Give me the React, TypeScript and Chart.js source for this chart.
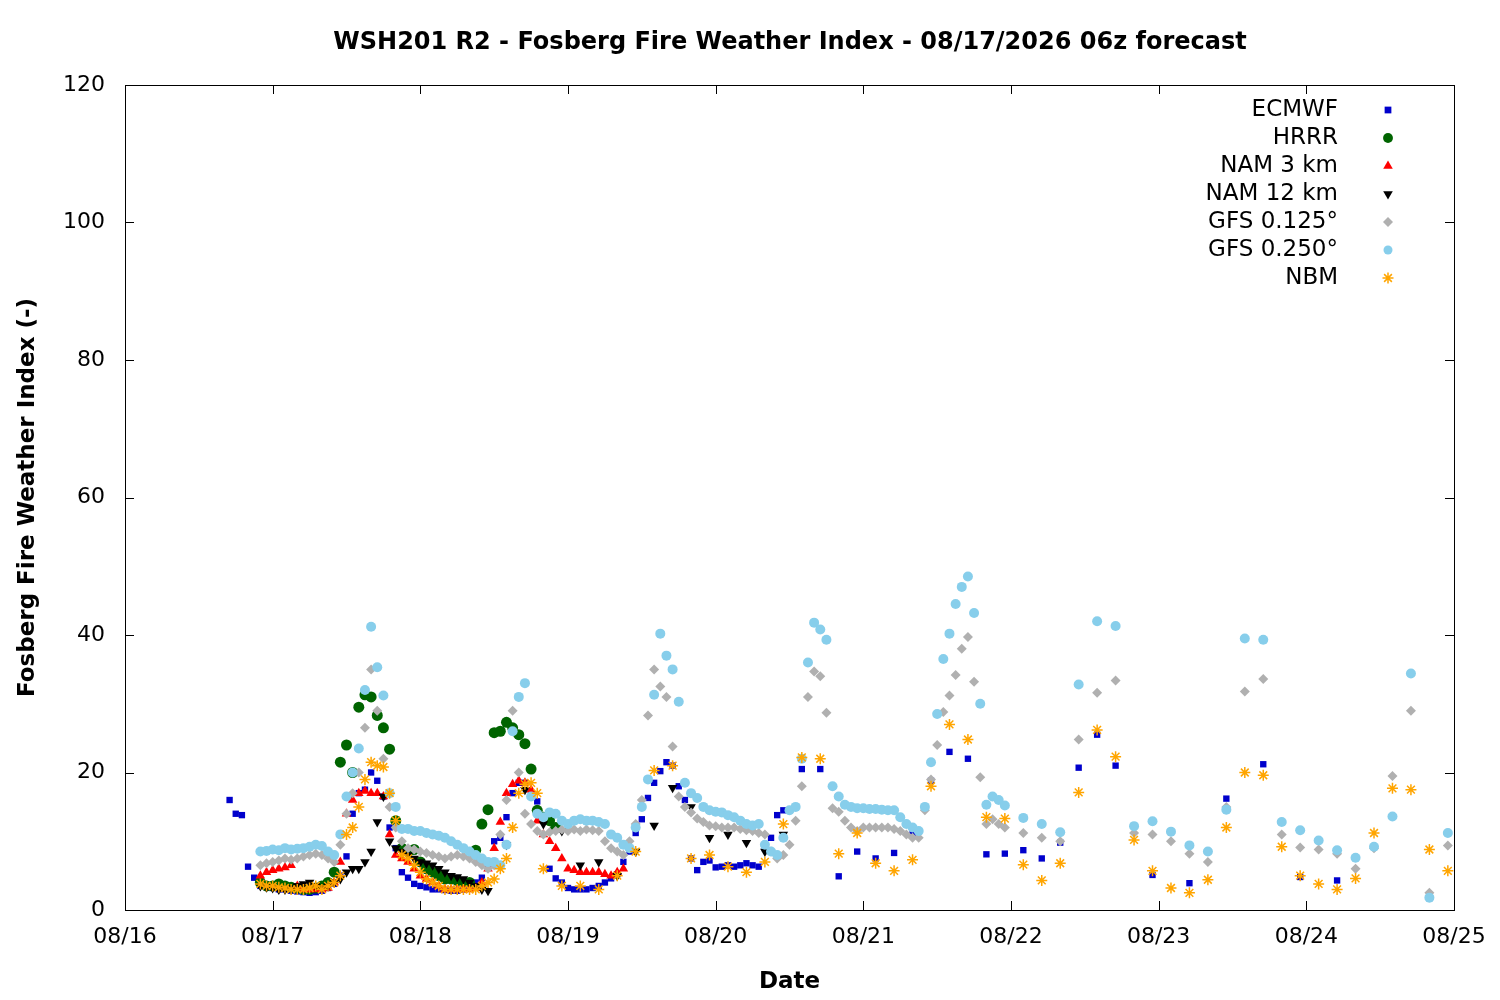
import React, { useEffect, useRef } from "react";
import { Chart, registerables } from "chart.js";
Chart.register(...registerables);

const xTickLabels = ["08/16","08/17","08/18","08/19","08/20","08/21","08/22","08/23","08/24","08/25"];
const seriesNames = ["ECMWF","HRRR","NAM 3 km","NAM 12 km","GFS 0.125°","GFS 0.250°","NBM"];

// hours since 08/16 00z
const ecmwfH1 = 17;
const ecmwfHourly = [16,14,13.8,6.3,4.7,3.5,3.3,3.2,3.0,3,2.8,2.7,2.6,2.5,2.6,2.8,3.2,3.8,5,7.8,14,17,17.5,20,18.8,16.5,12,9,5.5,4.7,3.8,3.5,3.3,3,3,2.9,2.8,2.8,3,3.2,4,4.7,6.5,10,10.5,13.5,17,18.5,18.5,17,15.8,13.5,6,4.6,4,3.2,3,3,3,3.2,3.5,4,4.6,5.2,7,8.5,11.2,13.2,16.3,18.5,20.2,21.5,21,18,16,7.5,5.8,7,7.2,6.2,6.3,6.5,6.3,6.5,6.8,6.5,6.3,9,10.5,13.8,14.5];
const ecmwfH3 = [110,113,116,119,122,125,128,131,134,137,140,143,146,149,152,155,158,161,167,173,179,185,191,197];
const ecmwfV3 = [20.5,20.5,4.9,8.5,7.5,8.3,11,18.8,23,22,8.1,8.2,8.7,7.5,9.8,20.7,25.5,21,5.1,3.9,16.2,21.2,4.8,4.3];

const hrrrH1 = 22;
const hrrrVals = [4,3.5,3.5,3.8,3.5,3.3,3.2,3,3,3.2,3.5,4,5.5,21.5,24,20,29.5,31.3,31,28.3,26.5,23.4,13,9,8.5,8.8,7,6,5.5,5,4.5,4.5,4.3,4,4,8.7,12.5,14.6,25.8,26,27.3,26.5,25.5,24.2,20.5,14.5,13.5,13,12];

const nam3H1 = 22;
const nam3Vals = [5,5.5,5.8,6,6.2,6.5,3.5,3,3,3,3,3.2,4,7,14,16,17,17.3,17,17,16.5,11,8,7.5,7,6,5,4.5,4,3.5,3,3,3,3,3,3.2,4,6,9,12.8,17,18.3,18.8,18.5,17.5,13,11,10,9,7.5,6,5.8,5.5,5.5,5.5,5.5,5.2,5,5.5,6];

const nam12H1 = 22;
const nam12Vals = [3.5,3.3,3.2,3,3,3.2,3.5,3.8,4,3.5,3.2,3.5,4,4.5,5.5,6,6,7,8.5,12.8,16.5,10,9,8.5,8,7.5,7,6.8,6.5,6,5.5,5,4.8,4.5,4,3.5,3,2.8];
const nam12H3 = [62,65,68,71,74,77,80,83,86,89,92,95,98,101,104,107];
const nam12V3 = [9.5,17.5,12.5,11.5,6.5,7,5,8.5,12.3,17.8,15,10.5,11,9.8,8.5,11];

const gfs125H1 = 22;
const gfs125Hourly = [6.5,6.8,7,7.2,7.5,7.3,7.5,7.8,8,8.2,8,7.5,7,9.5,14,17,20,26.5,35,29,22,15,12,10,9,8.8,8.5,8.3,8,7.8,7.5,7.8,8,7.8,7.5,7,6.5,6,6.5,11,16,29,20,14,12.5,11.5,11,11.3,11.5,11.7,11.5,11.7,11.5,11.7,11.6,11.5,10,9,8.5,8,10,12.5,16,28.3,35,32.5,31,23.8,16.5,15,14.2,13.3,12.8,12.3,12.2,12,12,12,11.8,11.6,11.5,11.2,11,8.5,7.5,8,9.5,13,18,31,34.7,34,28.7,14.8,14.3,13,12,11.5,12,12,12,12,12,11.8,11.5,11,10.5,10.5,14.5,19,24,28.8,31.2,34.2,38,39.7,33.2,19.3,12.5,13.2,12.5,12];
const gfs125H3 = [146,149,152,155,158,161,164,167,170,173,176,179,182,185,188,191,194,197,200,203,206,209,212,215];
const gfs125V3 = [11.2,10.5,10,24.8,31.6,33.4,11.2,11,10,8.2,7,15,31.8,33.6,11,9.1,8.8,8.2,6,9,19.5,29,2.5,9.4];

const gfs250H1 = 22;
const gfs250Hourly = [8.5,8.6,8.8,8.7,9,8.8,8.9,9,9.2,9.5,9.3,8.5,8,11,16.5,20,23.5,32,41.2,35.3,31.2,17,15,11.8,11.8,11.5,11.5,11.2,11,10.8,10.5,10,9.5,9,8.5,8,7.5,7,7,6.5,9.5,26,31,33,16.5,14,13.5,14.2,14,13,12.5,13,13.2,13,13,12.8,12.5,11,10.5,9.5,9,12,15,19,31.3,40.2,37,35,30.3,18.5,17,16.3,15,14.5,14.3,14.2,13.8,13.5,13,12.5,12.3,12.5,9.5,8.5,8,10.5,14.5,15,22,36,41.8,40.8,39.3,18,16.5,15.3,15,14.8,14.8,14.7,14.7,14.6,14.5,14.5,13.5,12.5,12,11.5,15,21.5,28.5,36.5,40.2,44.5,47,48.5,43.2,30,15.3,16.5,16,15.2];
const gfs250H3 = [146,149,152,155,158,161,164,167,170,173,176,179,182,185,188,191,194,197,200,203,206,209,212,215];
const gfs250V3 = [13.4,12.5,11.3,32.8,42,41.3,12.2,12.9,11.4,9.4,8.5,14.6,39.5,39.3,12.8,11.6,10.1,8.7,7.6,9.2,13.6,34.4,1.8,11.2];

const nbmH1 = 22;
const nbmHourly = [3.8,3.5,3.5,3.3,3.2,3,3,3,3.2,3.5,3,3.5,4,5,11,12,15,19,21.5,21,20.8,17,13,8,7.5,6.5,5.5,4.5,4,3.5,3,3,3,3,3,3,3.5,4,4.5,6,7.5,12,17,18.3,18.5,17,6];
const nbmH3 = [71,74,77,80,83,86,89,92,95,98,101,104,107,110,113,116,119,122,125,128,131,134,137,140,143,146,149,152,155,158,161,164,167,170,173,176,179,182,185,188,191,194,197,200,203,206,209,212,215];
const nbmV3 = [3.5,3.5,3,5,8.5,20.3,21,7.5,8,6.3,5.5,7,12.5,22.2,22,8.2,11.2,6.8,5.7,7.3,18,27,24.8,13.5,13.3,6.6,4.3,6.8,17.1,26.2,22.3,10.2,5.7,3.2,2.5,4.4,12,20,19.6,9.2,5,3.8,3,4.6,11.2,17.7,17.5,8.8,5.7];

function hourly(start: number, vals: number[]) {
  return vals.map((v, i) => ({ x: start + i, y: v }));
}
function pairs(hs: number[], vals: number[]) {
  return hs.map((h, i) => ({ x: h, y: vals[i] }));
}

const colors = ["#0000cc","#006400","#ff0000","#000000","#b0b0b0","#87ceeb","#ffa500"];
const styles: any[] = ["rect","circle","triangle","triangle","rectRot","circle","star"];
const rots = [0,0,0,180,0,0,0];
const radii = [4.5,5.5,5.5,5.5,5,5,5.5];

function marker(ctx: CanvasRenderingContext2D, i: number, x: number, y: number) {
  const r = radii[i];
  ctx.fillStyle = colors[i]; ctx.strokeStyle = colors[i]; ctx.lineWidth = 1.5;
  ctx.beginPath();
  const st = styles[i];
  if (st === "rect") { ctx.rect(x - r * 0.75, y - r * 0.75, r * 1.5, r * 1.5); ctx.fill(); }
  else if (st === "circle") { ctx.arc(x, y, r * 0.9, 0, Math.PI * 2); ctx.fill(); }
  else if (st === "rectRot") { ctx.moveTo(x, y - r); ctx.lineTo(x + r, y); ctx.lineTo(x, y + r); ctx.lineTo(x - r, y); ctx.closePath(); ctx.fill(); }
  else if (st === "triangle") {
    const d = rots[i] ? -1 : 1;
    ctx.moveTo(x, y - d * r); ctx.lineTo(x + r * 0.87, y + d * r * 0.5); ctx.lineTo(x - r * 0.87, y + d * r * 0.5); ctx.closePath(); ctx.fill();
  } else {
    for (let k = 0; k < 4; k++) {
      const a = (k * Math.PI) / 4;
      ctx.moveTo(x - Math.cos(a) * r, y - Math.sin(a) * r); ctx.lineTo(x + Math.cos(a) * r, y + Math.sin(a) * r);
    }
    ctx.stroke();
  }
}

export default function App() {
  const ref = useRef<HTMLCanvasElement>(null);
  useEffect(() => {
    document.body.style.margin = "0";
    const data = [
      [...hourly(ecmwfH1, ecmwfHourly), ...pairs(ecmwfH3, ecmwfV3)],
      hourly(hrrrH1, hrrrVals),
      hourly(nam3H1, nam3Vals),
      [...hourly(nam12H1, nam12Vals), ...pairs(nam12H3, nam12V3)],
      [...hourly(gfs125H1, gfs125Hourly), ...pairs(gfs125H3, gfs125V3)],
      [...hourly(gfs250H1, gfs250Hourly), ...pairs(gfs250H3, gfs250V3)],
      [...hourly(nbmH1, nbmHourly), ...pairs(nbmH3, nbmV3)],
    ];
    const order = [6,5,4,3,2,1,0];
    const datasets = order.map((i) => ({
      label: seriesNames[i],
      data: data[i],
      pointStyle: styles[i],
      pointRotation: rots[i],
      pointRadius: radii[i],
      backgroundColor: colors[i],
      borderColor: colors[i],
      borderWidth: i === 6 ? 1.5 : 0,
      showLine: false,
    }));
    const frame = {
      id: "frame",
      afterDraw(c: any) {
        const { ctx, chartArea: a, scales } = c;
        ctx.save();
        ctx.strokeStyle = "#000";
        ctx.lineWidth = 1;
        ctx.strokeRect(a.left + 0.5, a.top + 0.5, a.right - a.left, a.bottom - a.top);
        ctx.beginPath();
        for (let v = 0; v <= 120; v += 20) {
          const y = Math.round(scales.y.getPixelForValue(v)) + 0.5;
          ctx.moveTo(a.left, y); ctx.lineTo(a.left + 9, y);
          ctx.moveTo(a.right, y); ctx.lineTo(a.right - 9, y);
        }
        for (let h = 0; h <= 216; h += 24) {
          const x = Math.round(scales.x.getPixelForValue(h)) + 0.5;
          ctx.moveTo(x, a.bottom); ctx.lineTo(x, a.bottom - 9);
          ctx.moveTo(x, a.top); ctx.lineTo(x, a.top + 9);
        }
        ctx.stroke();
        ctx.fillStyle = "#000";
        ctx.font = "bold 24px 'DejaVu Sans'";
        ctx.textAlign = "center";
        ctx.textBaseline = "middle";
        ctx.fillText("WSH201 R2 - Fosberg Fire Weather Index - 08/17/2026 06z forecast", 790, 43);
        ctx.font = "23px 'DejaVu Sans'";
        ctx.textAlign = "right";
        seriesNames.forEach((n, i) => {
          const y = 110 + i * 28;
          ctx.fillStyle = "#000";
          ctx.fillText(n, 1338, y);
          marker(ctx, i, 1388, y);
        });
        ctx.restore();
      },
    };
    const chart = new Chart(ref.current!, {
      type: "scatter",
      data: { datasets },
      plugins: [frame],
      options: {
        animation: false,
        responsive: false,
        layout: { padding: { left: 10, right: 46, top: 85, bottom: 0 } },
        plugins: { legend: { display: false }, tooltip: { enabled: false }, title: { display: false } },
        scales: {
          x: {
            type: "linear", min: 0, max: 216,
            afterFit: (s: any) => { s.height = 90; },
            afterBuildTicks: (s: any) => { s.ticks = xTickLabels.map((_, i) => ({ value: i * 24 })); },
            ticks: { color: "#000", font: { size: 22, family: "'DejaVu Sans'" }, padding: 6,
              callback: (v: any) => xTickLabels[Math.round(Number(v) / 24)] },
            grid: { display: false }, border: { display: false },
            title: { display: true, text: "Date", color: "#000", font: { size: 23, weight: "bold", family: "'DejaVu Sans'" }, padding: { top: 2 } },
          },
          y: {
            min: 0, max: 120,
            afterFit: (s: any) => { s.width = 115; },
            ticks: { stepSize: 20, color: "#000", font: { size: 22, family: "'DejaVu Sans'" }, padding: 12 },
            grid: { display: false }, border: { display: false },
            title: { display: true, text: "Fosberg Fire Weather Index (-)", color: "#000", font: { size: 23, weight: "bold", family: "'DejaVu Sans'" }, padding: { bottom: 4 } },
          },
        },
      },
    });
    return () => chart.destroy();
  }, []);
  return <canvas ref={ref} width={1500} height={1000} style={{ display: "block" }} />;
}
